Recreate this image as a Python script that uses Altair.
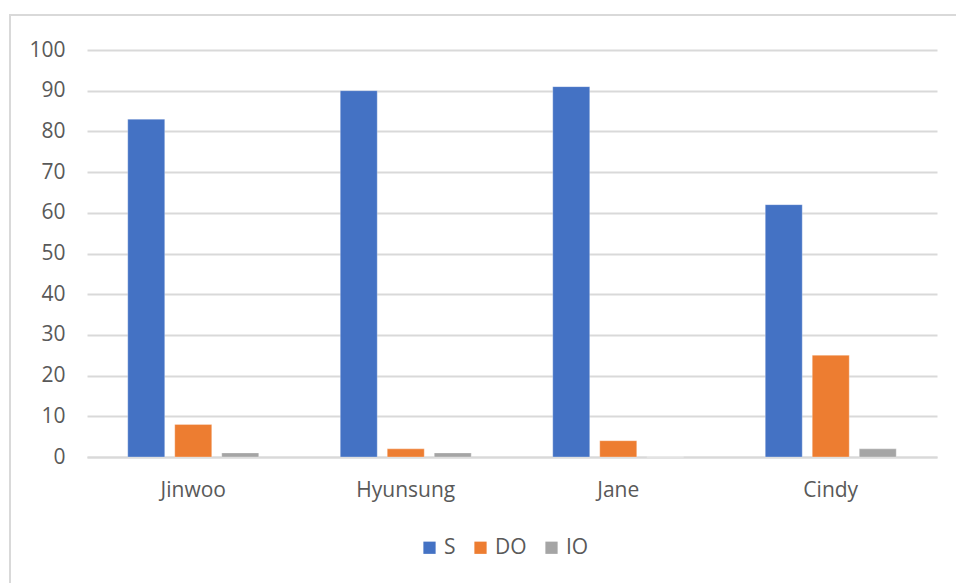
import altair as alt
import pandas as pd

names = ["Jinwoo", "Hyunsung", "Jane", "Cindy"]
series = ["S", "DO", "IO"]
s_vals = [83, 90, 91, 62]
do_vals = [8, 2, 4, 25]
io_vals = [1, 1, 0, 2]
colors = ["#4472C4", "#ED7D31", "#A5A5A5"]

rows = []
for i, n in enumerate(names):
    for s, vals in zip(series, [s_vals, do_vals, io_vals]):
        rows.append({"name": n, "series": s, "value": vals[i]})
df = pd.DataFrame(rows)

FONT = "Open Sans"
TXT = "#595959"
W, H = 850, 407
PL, PT = 87, 50

bars = alt.Chart(df).mark_bar(stroke="#ffffff", strokeWidth=0.6, strokeOpacity=0.5).encode(
    x=alt.X("name:N", sort=names, title=None,
            scale=alt.Scale(paddingInner=0, paddingOuter=0),
            axis=alt.Axis(labelAngle=0, labelFont=FONT, labelFontSize=21, labelColor=TXT,
                          labelPadding=22, ticks=False, domain=True, domainColor="#d9d9d9",
                          domainWidth=2, grid=False)),
    xOffset=alt.XOffset("series:N", sort=series,
                        scale=alt.Scale(paddingInner=0.213, paddingOuter=0.867)),
    y=alt.Y("value:Q", title=None,
            scale=alt.Scale(domain=[0, 100], nice=False),
            axis=alt.Axis(values=list(range(0, 101, 10)), labelFont=FONT, labelFontSize=21,
                          labelColor=TXT, labelPadding=22, ticks=False, domain=False,
                          grid=True, gridColor="#d9d9d9", gridWidth=2)),
    color=alt.Color("series:N", sort=series,
                    scale=alt.Scale(domain=series, range=colors),
                    legend=alt.Legend(title=None, orient="none", direction="horizontal",
                                      legendX=332, legendY=487,
                                      symbolType="square", symbolSize=150,
                                      symbolStrokeWidth=0,
                                      labelFont=FONT, labelFontSize=21, labelColor=TXT,
                                      columnPadding=14, labelOffset=4)),
)

border = alt.Chart(pd.DataFrame({"a": [0]})).mark_rect(
    fill=None, stroke="#d9d9d9", strokeWidth=2
).encode(
    x=alt.value(10 - PL), x2=alt.value(980 - PL),
    y=alt.value(15 - PT), y2=alt.value(600 - PT),
)

chart = alt.layer(border, bars).properties(
    width=W, height=H,
    autosize=alt.AutoSizeParams(type="none"),
    padding={"left": PL, "top": PT, "right": 956 - PL - W, "bottom": 583 - PT - H},
    background="white",
).configure_view(stroke=None)

chart.save("out.html", embed_options={"renderer": "svg", "actions": False})
